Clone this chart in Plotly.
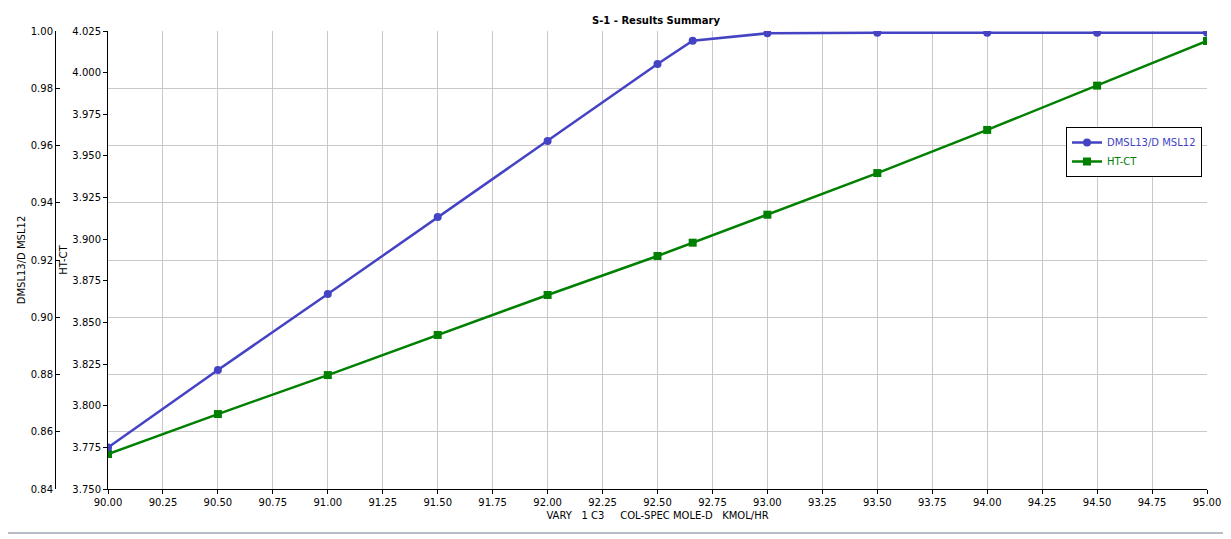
import plotly.graph_objects as go

# x values (VARY 1 C3 COL-SPEC MOLE-D KMOL/HR)
vary = [90.0, 90.5, 91.0, 91.5, 92.0, 92.5, 92.66, 93.0, 93.5, 94.0, 94.5, 95.0]

# DMSL13/D MSL12 (outer left axis)
dmsl = [0.8545, 0.8816, 0.9081, 0.9350, 0.9616, 0.9885, 0.9966, 0.9992,
        0.9994, 0.9994, 0.9994, 0.9994]

# HT-CT (inner left axis)
htct = [3.7710, 3.7950, 3.8184, 3.8425, 3.8665, 3.8899, 3.8979, 3.9147,
        3.9397, 3.9656, 3.9922, 4.0190]

blue = "#4343C4"
green = "#008000"
font = "DejaVu Sans"

fig = go.Figure()

fig.add_trace(go.Scatter(
    x=vary, y=dmsl, yaxis="y2",
    name="<span style='color:%s'>DMSL13/D MSL12</span>" % blue,
    mode="lines+markers",
    line=dict(color=blue, width=2.5),
    marker=dict(symbol="circle", size=8, color=blue),
))
fig.add_trace(go.Scatter(
    x=vary, y=htct, yaxis="y",
    name="<span style='color:%s'>HT-CT</span>" % green,
    mode="lines+markers",
    line=dict(color=green, width=2.5),
    marker=dict(symbol="square", size=8, color=green),
))

# page has an 8px body margin, so the figure starts 8px right/down
off = 8
W, H = 1231 - off, 539 - off
L, R, T, B = 50 - off, 24, 31 - off, 50
pw = W - L - R
ph = H - T - B
x0 = (108 - off - L) / pw


def px_x(p):
    return (p - off - L) / pw


def px_y(p):
    return (H - B - (p - off)) / ph


fig.update_layout(
    width=W, height=H,
    margin=dict(l=L, r=R, t=T, b=B),
    paper_bgcolor="white", plot_bgcolor="white",
    font=dict(family=font, size=10, color="black"),
    title=dict(text="<b>S-1 - Results Summary</b>", x=(656 - off) / W, xref="container",
               y=1 - (20 - off) / H, yanchor="middle", xanchor="center",
               font=dict(family=font, size=10, color="black")),
    xaxis=dict(
        domain=[x0, 1], range=[90, 95], dtick=0.25, tick0=90, tickformat=".2f",
        showgrid=True, gridcolor="#C8C8C8", gridwidth=1, zeroline=False,
        showline=True, linecolor="black", linewidth=1,
        ticks="outside", ticklen=4, tickcolor="black", automargin=False,
        title=dict(text="VARY\u00a0\u00a0\u00a01 C3\u00a0\u00a0\u00a0\u00a0\u00a0COL-SPEC MOLE-D\u00a0\u00a0\u00a0KMOL/HR",
                   standoff=4, font=dict(size=10)),
    ),
    yaxis=dict(
        title=dict(text="HT-CT", standoff=2, font=dict(size=10)),
        range=[3.75, 4.025], dtick=0.025, tick0=3.75, tickformat=".3f",
        showgrid=False, zeroline=False,
        showline=True, linecolor="black", linewidth=1,
        ticks="outside", ticklen=4, tickcolor="black", automargin=False,
        anchor="x",
    ),
    yaxis2=dict(
        title=dict(text="DMSL13/D MSL12", standoff=2, font=dict(size=10)),
        range=[0.84, 1.0], dtick=0.02, tick0=0.84, tickformat=".2f",
        showgrid=True, gridcolor="#C8C8C8", gridwidth=1, zeroline=False,
        showline=True, linecolor="black", linewidth=1,
        ticks="inside", ticklen=4, tickcolor="black", automargin=False,
        overlaying="y", side="left", anchor="free", position=px_x(55),
    ),
    legend=dict(
        x=px_x(1066), y=px_y(127), xanchor="left", yanchor="top",
        bgcolor="white", bordercolor="black", borderwidth=1,
        font=dict(family=font, size=10), tracegroupgap=0,
        itemwidth=30,
    ),
    showlegend=True,
)

# window frame
fig.add_shape(type="rect", xref="paper", yref="paper",
              x0=px_x(3), x1=px_x(1228), y0=px_y(533), y1=px_y(3),
              line=dict(color="#A0A8B4", width=1.5), fillcolor="rgba(0,0,0,0)", layer="above")

fig.write_html("out.html")
